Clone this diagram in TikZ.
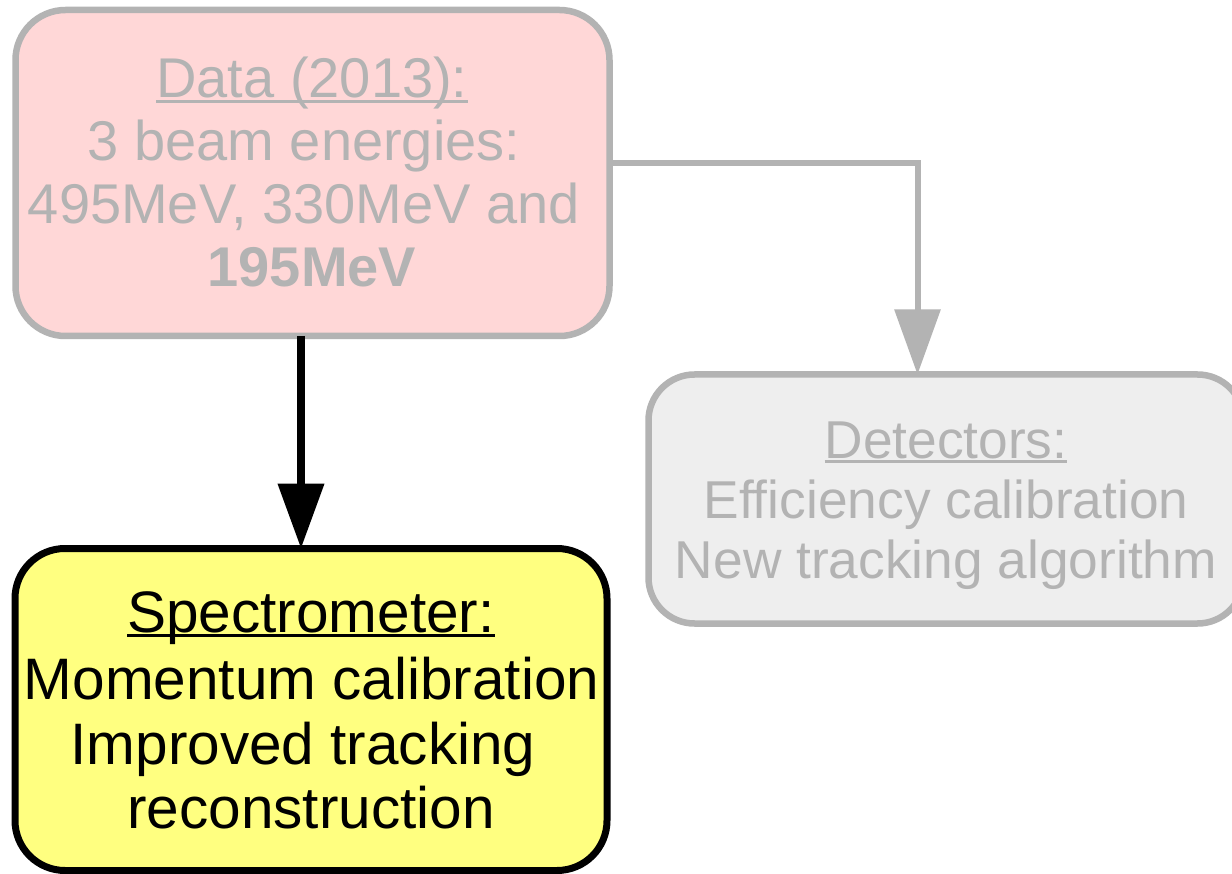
\documentclass[tikz,border=0pt]{standalone}
\usepackage{fontspec}
\setmainfont{Liberation Sans}
\usetikzlibrary{arrows.meta}
\definecolor{grline}{HTML}{B3B3B3}
\definecolor{pinkfill}{HTML}{FFD7D7}
\definecolor{yelfill}{HTML}{FFFF80}
\definecolor{lgfill}{HTML}{EEEEEE}
\tikzset{
  boxbase/.style={rectangle, inner sep=0pt, outer sep=0pt},
  databox/.style={boxbase, draw=grline, fill=pinkfill, line width=6.5pt, rounded corners=50pt,
    minimum width=594pt, minimum height=326pt},
  specbox/.style={boxbase, draw=black, fill=yelfill, line width=7pt, rounded corners=50pt,
    minimum width=592pt, minimum height=322pt},
  detbox/.style={boxbase, draw=grline, fill=lgfill, line width=6.5pt, rounded corners=46pt,
    minimum width=595pt, minimum height=249pt},
  txt/.style={inner sep=0pt, outer sep=0pt, anchor=base},
  datatxt/.style={txt, text=grline, font=\fontsize{56}{63}\selectfont},
  spectxt/.style={txt, text=black, font=\fontsize{58.5}{65}\selectfont},
  dettxt/.style={txt, text=grline, font=\fontsize{53.3}{60}\selectfont},
  ulgray/.style={draw=grline, line width=3pt},
  ulblack/.style={draw=black, line width=3pt},
  blackarrow/.style={draw=black, line width=7.5pt, -{Triangle[length=65pt,width=45pt]}},
  grayarrow/.style={draw=grline, line width=6pt, -{Triangle[length=65pt,width=45pt]}},
}
\begin{document}
\begin{tikzpicture}[x=1pt,y=-1pt]
\useasboundingbox (0,0) rectangle (1232,874);
\fill[white] (0,0) rectangle (1232,874);

% boxes
\node[databox] (data) at (312.5,173) {};
\node[specbox] (spec) at (311,709.5) {};
\node[detbox] (det) at (946,499) {};

% connectors
\draw[blackarrow] ([xshift=-11.5pt]data.south) -- ([xshift=-10pt]spec.north);
\draw[grayarrow, line join=miter] ([yshift=10pt]data.east) -| ([xshift=-28.5pt]det.north);

% data text
\node[datatxt] (d1) at (312,98) {Data (2013):};
\node[datatxt] (d2) at (304,161) {3 beam energies:};
\node[datatxt] (d3) at (304,224) {495MeV, 330MeV and};
\node[datatxt] (d4) at (312,287) {\bfseries 195MeV};
\draw[ulgray] ([yshift=-4pt]d1.base west) -- ([yshift=-4pt]d1.base east);

% spectrometer text
\node[spectxt] (s1) at (311,632) {Spectrometer:};
\node[spectxt] (s2) at (311.5,699) {Momentum calibration};
\node[spectxt] (s3) at (303,764) {Improved tracking};
\node[spectxt] (s4) at (311,828) {reconstruction};
\draw[ulblack] ([yshift=-3.5pt]s1.base west) -- ([yshift=-3.5pt]s1.base east);

% detectors text
\node[dettxt] (t1) at (946,458) {Detectors:};
\node[dettxt] (t2) at (946,518) {Efficiency calibration};
\node[dettxt] (t3) at (946,578) {New tracking algorithm};
\draw[ulgray] ([yshift=-3.7pt]t1.base west) -- ([yshift=-3.7pt]t1.base east);
\end{tikzpicture}
\end{document}
